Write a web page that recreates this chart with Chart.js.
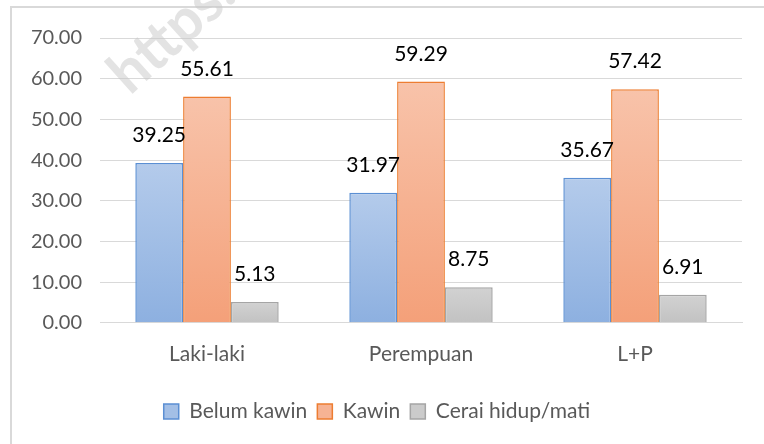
<!DOCTYPE html>
<html>
<head>
<meta charset="utf-8">
<script src="https://cdn.jsdelivr.net/npm/chart.js@4"></script>
<style>
  html, body { margin: 0; padding: 0; background: #fff; }
  #wrap { position: relative; width: 764px; height: 444px; overflow: hidden; }
  #frame { position: absolute; left: 10px; top: 6px; width: 800px; height: 500px; border: 2px solid #d9d9d9; box-sizing: border-box; }
  canvas { position: absolute; left: 0; top: 0; }
</style>
</head>
<body>
<div id="wrap">
  <div id="frame"></div>
  <canvas id="myChart" width="764" height="444"></canvas>
</div>
<script>
const categories = ['Laki-laki', 'Perempuan', 'L+P'];
const belumKawin = [39.25, 31.97, 35.67];
const kawin = [55.61, 59.29, 57.42];
const cerai = [5.13, 8.75, 6.91];
const seriesNames = ['Belum kawin', 'Kawin', 'Cerai hidup/mati'];
const yTicks = [0, 10, 20, 30, 40, 50, 60, 70];

const FONT = 'Lato, "Open Sans", sans-serif';

function barGradient(top, bottom) {
  return function (context) {
    const chart = context.chart;
    if (!chart.chartArea || context.raw === undefined) return top;
    const y = chart.scales.y;
    const y0 = y.getPixelForValue(context.raw);
    const y1 = y.getPixelForValue(0);
    if (!isFinite(y0) || !isFinite(y1) || y0 === y1) return top;
    const g = chart.ctx.createLinearGradient(0, y0, 0, y1);
    g.addColorStop(0, top);
    g.addColorStop(1, bottom);
    return g;
  };
}

// value labels above each bar
const valueLabels = {
  id: 'valueLabels',
  afterDatasetsDraw(chart) {
    const ctx = chart.ctx;
    ctx.save();
    ctx.font = '21px ' + FONT;
    ctx.fillStyle = '#000';
    ctx.textAlign = 'center';
    ctx.textBaseline = 'alphabetic';
    chart.data.datasets.forEach((ds, i) => {
      chart.getDatasetMeta(i).data.forEach((bar, j) => {
        ctx.fillText(ds.data[j].toFixed(2), bar.x, bar.y - 21);
      });
    });
    ctx.restore();
  }
};

// faint watermark text
const watermark = {
  id: 'watermark',
  afterDraw(chart) {
    const ctx = chart.ctx;
    ctx.save();
    ctx.translate(130, 96);
    ctx.rotate(-42 * Math.PI / 180);
    ctx.font = 'bold 58px ' + FONT;
    ctx.fillStyle = 'rgba(200,200,200,0.5)';
    ctx.textBaseline = 'alphabetic';
    ctx.fillText('https://', 0, 0);
    ctx.restore();
  }
};

const ctx = document.getElementById('myChart');

new Chart(ctx, {
  type: 'bar',
  data: {
    labels: categories,
    datasets: [{
      label: seriesNames[0],
      data: belumKawin,
      backgroundColor: barGradient('#b4cbeb', '#8db0e0'),
      borderColor: '#5b8fd3',
      borderWidth: 1.5
    }, {
      label: seriesNames[1],
      data: kawin,
      backgroundColor: barGradient('#f8c3aa', '#f4a079'),
      borderColor: '#ed7d31',
      borderWidth: 1.5
    }, {
      label: seriesNames[2],
      data: cerai,
      backgroundColor: barGradient('#d2d2d2', '#c2c2c2'),
      borderColor: '#a5a5a5',
      borderWidth: 1.5
    }]
  },
  options: {
    responsive: false,
    animation: false,
    events: [],
    layout: { padding: { top: 38, right: 22, left: 12, bottom: 12 } },
    datasets: {
      bar: { categoryPercentage: 0.67, barPercentage: 1 }
    },
    scales: {
      x: {
        grid: { display: false, drawTicks: false },
        border: { display: true, color: '#d9d9d9', width: 1 },
        ticks: { color: '#595959', font: { family: FONT, size: 21 }, padding: 19 },
        afterFit(axis) { axis.height += 5; }
      },
      y: {
        min: 0,
        max: 70,
        afterBuildTicks(axis) { axis.ticks = yTicks.map(v => ({ value: v })); },
        grid: { color: '#d9d9d9', lineWidth: 1, drawTicks: false },
        border: { display: false },
        ticks: {
          color: '#595959',
          font: { family: FONT, size: 20 },
          padding: 18,
          callback: v => v.toFixed(2)
        },
        afterFit(axis) { axis.width = 88; }
      }
    },
    plugins: {
      legend: {
        position: 'bottom',
        labels: {
          color: '#595959',
          font: { family: FONT, size: 21 },
          boxWidth: 15,
          boxHeight: 15,
          padding: 10,
          generateLabels(chart) {
            return chart.data.datasets.map((ds, i) => ({
              text: ds.label,
              fillStyle: ['#a3bfe6', '#f6b394', '#cbcbcb'][i],
              strokeStyle: ds.borderColor,
              lineWidth: 1.5,
              datasetIndex: i,
              fontColor: '#595959'
            }));
          }
        }
      },
      tooltip: { enabled: false }
    }
  },
  plugins: [valueLabels, watermark]
});
</script>
</body>
</html>
